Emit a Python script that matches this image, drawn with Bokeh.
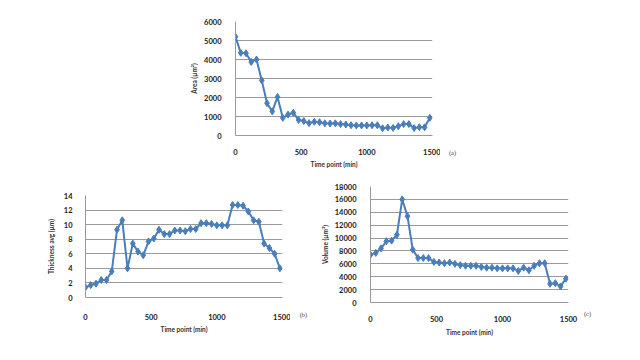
from bokeh.plotting import figure
from bokeh.layouts import column, row
from bokeh.models import Range1d, FixedTicker
from bokeh.embed import file_html
from bokeh.resources import INLINE

time_min = [0, 40, 80, 120, 160, 200, 240, 280, 320, 360, 400, 440, 480, 520, 560,
            600, 640, 680, 720, 760, 800, 840, 880, 920, 960, 1000, 1040, 1080,
            1120, 1160, 1200, 1240, 1280, 1320, 1360, 1400, 1440, 1480]

area = [5200, 4350, 4330, 3870, 4000, 2900, 1700, 1270, 2030, 930, 1100, 1200, 820,
        760, 650, 720, 700, 640, 630, 640, 600, 580, 540, 530, 530, 530, 540, 540,
        380, 420, 400, 490, 600, 600, 390, 440, 430, 930]

thickness = [1.4, 1.7, 1.9, 2.4, 2.4, 3.6, 9.3, 10.6, 4.0, 7.4, 6.3, 5.8, 7.7, 8.1,
             9.3, 8.7, 8.7, 9.2, 9.2, 9.1, 9.4, 9.4, 10.2, 10.2, 10.1, 9.9, 9.9, 9.9,
             12.7, 12.7, 12.6, 11.8, 10.6, 10.4, 7.4, 6.8, 6.0, 4.0]

volume = [7400, 7700, 8400, 9500, 9600, 10500, 16000, 13400, 8200, 6900, 6900, 6900,
          6300, 6200, 6100, 6200, 6000, 5800, 5700, 5700, 5700, 5500, 5400, 5400,
          5300, 5300, 5300, 5300, 4900, 5400, 5000, 5700, 6100, 6100, 2900, 3000,
          2500, 3700]

x_ticks = [0, 500, 1000, 1500]
area_ticks = [0, 1000, 2000, 3000, 4000, 5000, 6000]
thick_ticks = [0, 2, 4, 6, 8, 10, 12, 14]
vol_ticks = [0, 2000, 4000, 6000, 8000, 10000, 12000, 14000, 16000, 18000]
panel_tags = ["(a)", "(b)", "(c)"]

BLUE = "#4A7EBB"
GRID = "#9a9a9a"
FONT = "Lato"


def make(width, height, l, r, t, b, yticks, ytitle, ys,
         xl_stand, xt_stand, yl_stand, yt_stand):
    p = figure(width=width, height=height, min_border_left=l, min_border_right=r,
               min_border_top=t, min_border_bottom=b,
               x_range=Range1d(0, 1500), y_range=Range1d(0, yticks[-1]),
               output_backend="svg", toolbar_location=None)
    p.outline_line_color = None
    p.xgrid.grid_line_color = None
    p.ygrid.grid_line_color = GRID
    p.ygrid.grid_line_width = 1
    p.xaxis.ticker = FixedTicker(ticks=x_ticks)
    p.yaxis.ticker = FixedTicker(ticks=yticks)
    for ax in (p.xaxis[0], p.yaxis[0]):
        ax.axis_line_color = GRID
        ax.major_tick_line_color = None
        ax.minor_tick_line_color = None
        ax.major_label_text_font = FONT
        ax.major_label_text_font_style = "bold"
        ax.major_label_text_font_size = "7.5px"
        ax.major_label_text_color = "#1a1a1a"
        ax.axis_label_text_font = FONT
        ax.axis_label_text_font_style = "bold"
        ax.axis_label_text_font_size = "6.5px"
        ax.axis_label_text_color = "#333333"
    p.xaxis.axis_label = "Time point (min)"
    p.yaxis.axis_label = ytitle
    p.xaxis.major_label_standoff = xl_stand
    p.xaxis.axis_label_standoff = xt_stand
    p.yaxis.major_label_standoff = yl_stand
    p.yaxis.axis_label_standoff = yt_stand
    p.line(time_min, ys, line_color=BLUE, line_width=2)
    p.scatter(time_min, ys, marker="diamond", size=7, fill_color=BLUE, line_color=BLUE)
    return p


def tag_fig(width, height, tag, lx, standoff):
    # a narrow companion figure whose (frame-aligned) x axis carries the panel tag
    t = figure(width=width, height=height, min_border=0, title=None,
               x_range=Range1d(0, width), y_range=Range1d(0, 1),
               y_axis_type=None, output_backend="svg", toolbar_location=None)
    t.outline_line_color = None
    t.grid.grid_line_color = None
    ax = t.xaxis[0]
    ax.ticker = FixedTicker(ticks=[lx])
    ax.major_label_overrides = {lx: tag}
    ax.axis_line_color = None
    ax.major_tick_line_color = None
    ax.minor_tick_line_color = None
    ax.major_label_standoff = standoff
    ax.major_label_text_font = "Liberation Serif"
    ax.major_label_text_font_size = "6.5px"
    ax.major_label_text_font_style = "normal"
    ax.major_label_text_color = "#444444"
    return t


pa = make(440, 170, 235, 8, 21, 34, area_ticks, "Area (µm²)", area, 7, 3, 8, 3)
ta = tag_fig(40, 170, panel_tags[0], 12, 7)
pb = make(290, 180, 85, 8, 25, 53, thick_ticks, "Thickness avg (µm)", thickness, 10, 3, 7, 6)
tb = tag_fig(20, 180, panel_tags[1], 13, 7)
pc = make(268, 180, 60, 10, 16, 48, vol_ticks, "Volume (µm³)", volume, 7, 4, 8, 3)
tc = tag_fig(30, 180, panel_tags[2], 9, 1)

layout = column(row(pa, ta, spacing=0),
                row(row(pb, tb, spacing=0), row(pc, tc, spacing=0), spacing=0),
                spacing=0)
open("out.html", "w").write(file_html(layout, INLINE))
